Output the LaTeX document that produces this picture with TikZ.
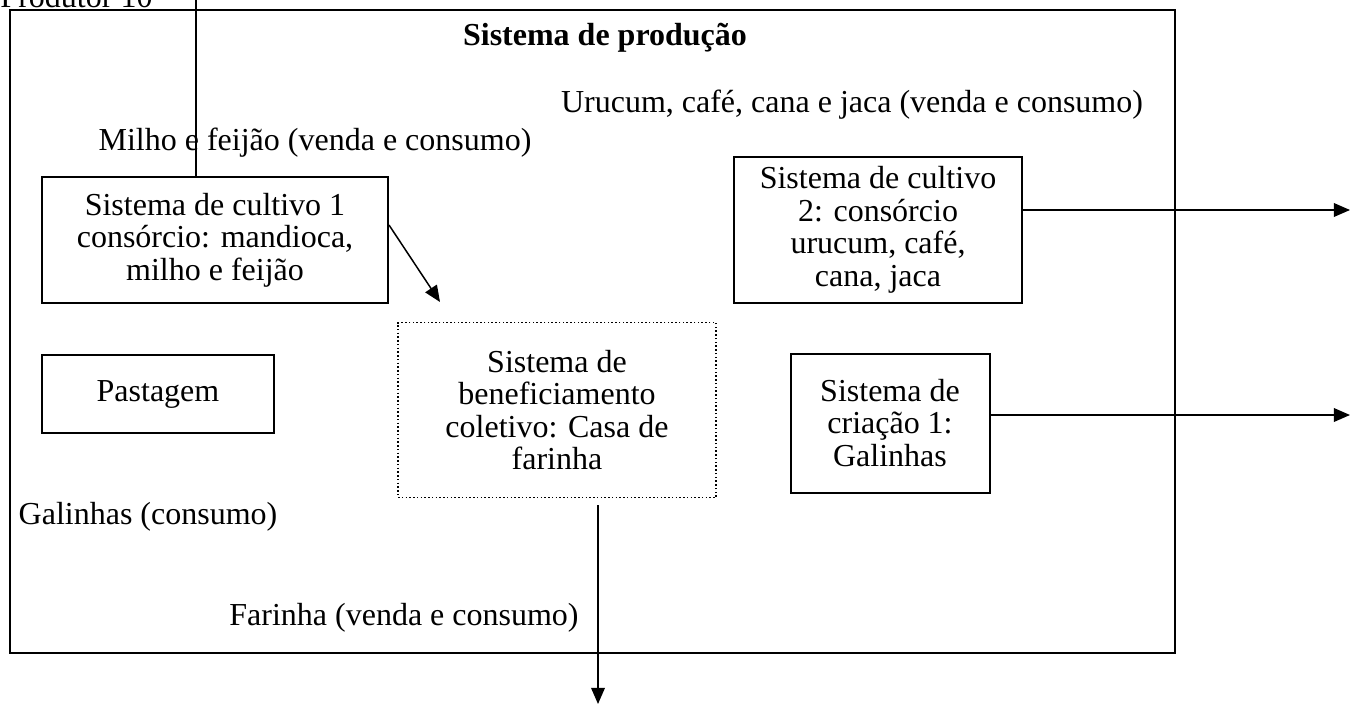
\documentclass[tikz,border=0pt]{standalone}
\usepackage{fontspec}
\setmainfont{Liberation Serif}
\usetikzlibrary{arrows.meta}

\tikzset{
    sysbox/.style={draw, line width=0.8pt, align=center, inner sep=2pt},
    dotbox/.style={draw, line width=0.5pt, dash pattern=on 0.6pt off 0.9pt, align=center, inner sep=2pt},
    flowlabel/.style={inner sep=0pt}
}

\begin{document}
\begin{tikzpicture}[x=0.4pt, y=-0.4pt, >={Triangle[length=6.5pt,width=5.5pt]},
    every node/.style={font=\fontsize{12.8pt}{13pt}\selectfont}]
    \useasboundingbox (0,0) rectangle (1351,706);

    % Main Boundary Box
    \draw[line width=1pt] (10,10) rectangle (1175,653);
    \node[flowlabel, anchor=base west] (prod) at (0,8) {Produtor 10};
    \node[flowlabel, font=\fontsize{12.8pt}{13pt}\bfseries] (title) at (605,38) {Sistema de produção};

    % Subsystems
    \node[sysbox, minimum width=138.4pt, minimum height=50.4pt] (cult1) at (215,240)
        {Sistema de cultivo 1\\consórcio: mandioca,\\milho e feijão};
    \node[sysbox, minimum width=115.2pt, minimum height=58.4pt] (cult2) at (878,230)
        {Sistema de cultivo\\2: consórcio\\urucum, café,\\cana, jaca};
    \node[sysbox, minimum width=92.4pt, minimum height=31.2pt] (past) at (158,394) {Pastagem};
    \node[dotbox, minimum width=127.2pt, minimum height=70pt] (benef) at (557,410)
        {Sistema de\\beneficiamento\\coletivo: Casa de\\farinha};
    \node[sysbox, minimum width=79.6pt, minimum height=55.6pt] (criac) at (890,423)
        {Sistema de\\criação 1:\\Galinhas};

    % Flow labels
    \node[flowlabel] (urucum) at (852,105) {Urucum, café, cana e jaca (venda e consumo)};
    \node[flowlabel] (milho) at (315,143) {Milho e feijão (venda e consumo)};
    \node[flowlabel] (galinhas) at (148,517) {Galinhas (consumo)};
    \node[flowlabel] (farinha) at (404,618) {Farinha (venda e consumo)};

    % Connectors
    \coordinate (top1) at (196,0);
    \coordinate (into) at (440,302);
    \coordinate (out2) at (1350,210);
    \coordinate (out3) at (1350,415);
    \coordinate (out4) at (598,704);

    \draw[line width=0.6pt] (top1) -- (top1 |- cult1.north);
    \draw[->, line width=0.6pt] ([yshift=6pt]cult1.east) -- (into);
    \draw[->, line width=0.6pt] (cult2.east |- out2) -- (out2);
    \draw[->, line width=0.6pt] (criac.east |- out3) -- (out3);
    \draw[->, line width=0.6pt, shorten <=2.8pt] (benef.south -| out4) -- (out4);
\end{tikzpicture}
\end{document}
